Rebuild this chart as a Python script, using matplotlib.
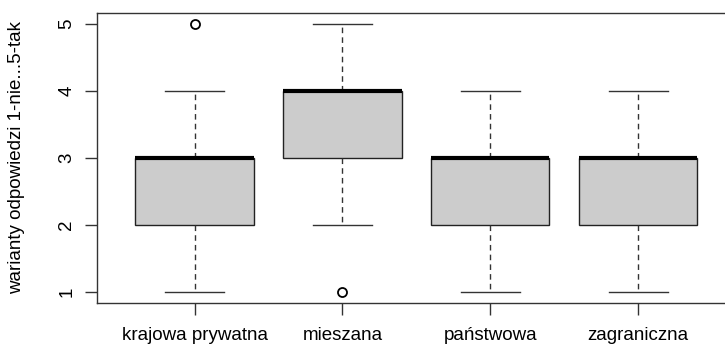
import matplotlib
matplotlib.use("Agg")
import matplotlib.pyplot as plt

categories = ["krajowa prywatna", "mieszana", "państwowa", "zagraniczna"]
whislo = [1, 2, 1, 1]
q1 = [2, 3, 2, 2]
med = [3, 4, 3, 3]
q3 = [3, 4, 3, 3]
whishi = [4, 5, 4, 4]
fliers = [[5], [1], [], []]
ylabel = "warianty odpowiedzi 1-nie...5-tak"
yticks = [1, 2, 3, 4, 5]

plt.rcParams['font.family'] = ['Liberation Sans', 'DejaVu Sans']

W, H = 725, 348
fig = plt.figure(figsize=(W / 100, H / 100), dpi=100)
left, right, top, bottom = 97.0, 735.7, 13.3, 302.7
ax = fig.add_axes([left / W, 1 - bottom / H, (right - left) / W, (bottom - top) / H])

stats = []
for i in range(len(categories)):
    stats.append(dict(label=categories[i], whislo=whislo[i], q1=q1[i], med=med[i],
                      q3=q3[i], whishi=whishi[i], fliers=fliers[i]))

ax.bxp(stats, positions=range(1, len(categories) + 1), widths=0.8,
       patch_artist=True, showfliers=True,
       boxprops=dict(facecolor='#cccccc', edgecolor='#222222', linewidth=1.0),
       medianprops=dict(color='black', linewidth=3, solid_capstyle='butt'),
       whiskerprops=dict(color='#333333', linewidth=1.0, linestyle=(0, (4, 3))),
       capprops=dict(color='#333333', linewidth=1.0),
       capwidths=0.4,
       flierprops=dict(marker='o', markersize=6.5, markerfacecolor='none',
                       markeredgecolor='black', markeredgewidth=1.3))

fs = 13.5
ax.set_xlim(0.34, 4.66)
ax.set_ylim(0.84, 5.16)
ax.set_yticks(yticks)
ax.set_yticklabels([str(v) for v in yticks], rotation=90, va='center', fontsize=fs)
ax.set_xticks(range(1, len(categories) + 1))
ax.set_xticklabels(categories, fontsize=fs)
ax.tick_params(axis='both', length=8.6, width=1, color='#333333')
ax.tick_params(axis='x', pad=9)
ax.tick_params(axis='y', pad=7)
ax.set_ylabel(ylabel, fontsize=fs, va='center')
ax.yaxis.set_label_coords((17 - left) / (right - left), 0.5)
for s in ax.spines.values():
    s.set_color('#333333')
    s.set_linewidth(1.0)

fig.savefig("out.png", dpi=100)
